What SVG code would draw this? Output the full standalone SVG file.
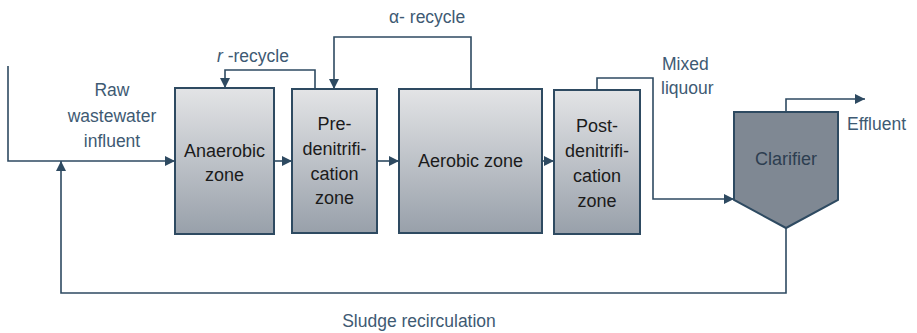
<svg xmlns="http://www.w3.org/2000/svg" width="917" height="333" viewBox="0 0 917 333">
<style>
.box{stroke:#2e4a61;stroke-width:2;fill:url(#g)}
.ln{fill:none;stroke:#2e4a61;stroke-width:1.6}
.bt{font-family:"Liberation Sans",Arial,sans-serif;font-size:18px;fill:#1b1b1b;text-anchor:middle}
.lb{font-family:"Liberation Sans",Arial,sans-serif;font-size:17.5px;fill:#3e5a73}
</style>
<defs>
<linearGradient id="g" x1="0" y1="0" x2="0" y2="1">
<stop offset="0" stop-color="#e3e4e6"/>
<stop offset="1" stop-color="#98a0aa"/>
</linearGradient>
<marker id="a" viewBox="0 0 10 10" refX="10" refY="5" markerWidth="10" markerHeight="10" markerUnits="userSpaceOnUse" orient="auto">
<path d="M0,0 L10,5 L0,10 Z" fill="#2e4a61"/>
</marker>
</defs>
<g id="connectors">
<path class="ln" d="M8,66 V161 H175" marker-end="url(#a)"/>
<path class="ln" d="M274,161 H292" marker-end="url(#a)"/>
<path class="ln" d="M377,161 H399" marker-end="url(#a)"/>
<path class="ln" d="M542,161 H554" marker-end="url(#a)"/>
<path class="ln" d="M315,88 V70 H225 V88" marker-end="url(#a)"/>
<path class="ln" d="M471,88 V37 H334 V89" marker-end="url(#a)"/>
<path class="ln" d="M597,90 V78 H653 V199 H734" marker-end="url(#a)"/>
<path class="ln" d="M786,112 V99 H865" marker-end="url(#a)"/>
<path class="ln" d="M786,228 V293 H61 V161" marker-end="url(#a)"/>
</g>
<g id="anaerobic">
<rect class="box" x="175" y="88" width="99" height="146"/>
<text class="bt" x="224.5" y="157">Anaerobic</text>
<text class="bt" x="224.5" y="181">zone</text>
</g>
<g id="predenitrification">
<rect class="box" x="292" y="89" width="85" height="144"/>
<text class="bt" x="334.5" y="130">Pre-</text>
<text class="bt" x="334.5" y="155">denitrifi-</text>
<text class="bt" x="334.5" y="180">cation</text>
<text class="bt" x="334.5" y="204">zone</text>
</g>
<g id="aerobic">
<rect class="box" x="399" y="89" width="143" height="144"/>
<text class="bt" x="470.5" y="167">Aerobic zone</text>
</g>
<g id="postdenitrification">
<rect class="box" x="554" y="90" width="86" height="144"/>
<text class="bt" x="597" y="132">Post-</text>
<text class="bt" x="597" y="157">denitrifi-</text>
<text class="bt" x="597" y="182">cation</text>
<text class="bt" x="597" y="207">zone</text>
</g>
<g id="clarifier">
<path d="M734,112 H838 V200 L786,228 L734,200 Z" fill="#7f8893" stroke="#2e4a61" stroke-width="2"/>
<text class="bt" x="786" y="165" style="fill:#2d3e50">Clarifier</text>
</g>
<g id="labels">
<text class="lb" x="112" y="96" text-anchor="middle">Raw</text>
<text class="lb" x="112" y="122" text-anchor="middle">wastewater</text>
<text class="lb" x="112" y="147" text-anchor="middle">influent</text>
<text class="lb" x="217" y="62"><tspan font-style="italic">r</tspan> -recycle</text>
<text class="lb" x="389" y="23">α- recycle</text>
<text class="lb" x="662" y="70">Mixed</text>
<text class="lb" x="661" y="94">liquour</text>
<text class="lb" x="847" y="130">Effluent</text>
<text class="lb" x="419" y="327" text-anchor="middle">Sludge recirculation</text>
</g>
</svg>
